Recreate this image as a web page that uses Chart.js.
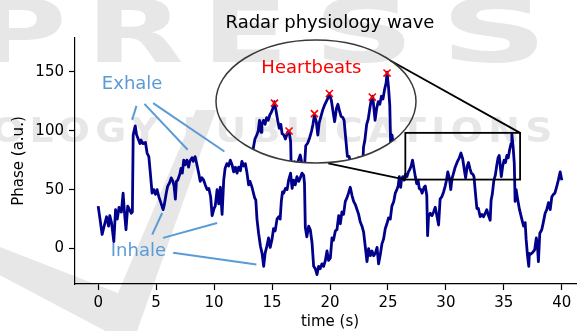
<!DOCTYPE html>
<html>
<head>
<meta charset="utf-8">
<script src="https://cdn.jsdelivr.net/npm/chart.js@4.4.1/dist/chart.umd.min.js"></script>
<style>
  html, body { margin: 0; padding: 0; overflow: hidden; background: #fff; }
  #wrap { position: relative; width: 600px; height: 331px; }
  #chart { position: absolute; left: 0; top: 0; }
  #inset { position: absolute; left: 210px; top: 34px; }
</style>
</head>
<body>
<div id="wrap">
  <canvas id="chart" width="600" height="331"></canvas>
  <canvas id="inset" width="212" height="135"></canvas>
</div>
<script>
// radar phase signal
const timeS = [0.00,0.20,0.34,0.54,0.72,0.90,1.00,1.15,1.35,1.50,1.65,1.80,2.00,2.15,2.25,2.40,2.55,2.70,2.85,2.95,
  3.02,3.10,3.20,3.30,3.45,3.60,3.70,3.85,4.08,4.22,4.37,4.50,4.65,4.80,4.94,5.08,5.23,5.37,5.60,5.70,
  5.89,6.00,6.17,6.30,6.45,6.55,6.66,6.75,6.86,7.04,7.15,7.26,7.38,7.50,7.65,7.80,7.90,8.10,8.20,8.36,
  8.50,8.67,8.80,8.95,9.10,9.24,9.40,9.55,9.70,9.83,10.00,10.10,10.26,10.40,10.54,10.69,10.83,10.95,11.10,11.25,
  11.40,11.55,11.69,11.84,11.98,12.12,12.27,12.40,12.56,12.70,12.84,12.98,13.10,13.27,13.50,13.60,13.70,13.84,14.00,14.14,
  14.28,14.40,14.55,14.70,14.84,15.00,15.13,15.27,15.43,15.57,15.70,15.80,15.90,16.00,16.15,16.30,16.43,16.60,16.73,16.86,
  17.00,17.15,17.30,17.44,17.58,17.73,17.80,17.87,18.00,18.16,18.30,18.45,18.59,18.73,18.88,19.02,19.16,19.30,19.45,19.60,
  19.74,19.88,20.03,20.17,20.30,20.46,20.60,20.75,20.89,21.03,21.17,21.32,21.46,21.60,21.75,21.90,22.04,22.20,22.30,22.47,
  22.60,22.76,22.90,23.04,23.19,23.33,23.48,23.62,23.77,23.91,24.06,24.19,24.34,24.48,24.62,24.77,24.91,25.05,25.20,25.34,
  25.50,25.63,25.77,25.88,25.98,26.10,26.16,26.28,26.40,26.52,26.64,26.76,26.88,27.00,27.12,27.24,27.36,27.48,27.60,27.70,
  27.83,27.95,28.12,28.22,28.35,28.42,28.50,28.65,28.80,28.94,29.08,29.20,29.37,29.50,29.65,29.80,29.94,30.05,30.16,30.30,
  30.42,30.52,30.66,30.80,30.96,31.16,31.30,31.45,31.60,31.70,31.84,31.95,32.07,32.19,32.33,32.42,32.52,32.67,32.80,32.96,
  33.10,33.24,33.40,33.53,33.67,33.82,33.90,34.00,34.14,34.26,34.38,34.50,34.60,34.69,34.78,34.90,35.02,35.14,35.26,35.38,
  35.50,35.62,35.69,35.80,35.90,35.97,36.06,36.17,36.35,36.55,36.70,36.84,36.92,37.04,37.15,37.20,37.27,37.40,37.50,37.66,
  37.80,37.90,37.98,38.10,38.27,38.40,38.56,38.70,38.85,39.00,39.14,39.28,39.40,39.57,39.70,39.86,40.00];
const phase = [36,22,12,20,27,19,28,22,6,33,25,35,31,47,33,16,36,33,30,31,
  96,100,104,97,93,89,92,89,90,81,78,64,47,50,46,50,44,40,33,37,
  48,53,56,60,57,53,42,57,58,63,68,64,75,71,75,69,74,77,74,78,
  72,64,57,60,58,54,50,51,44,28,34,36,50,38,52,29,58,68,72,70,
  75,71,65,69,64,69,66,74,70,72,64,54,57,52,43,41,25,13,2,-4,
  -15,-4,2,9,1,8,17,15,25,27,25,40,48,47,51,50,58,64,51,58,
  54,61,57,60,64,62,55,18,10,19,16,5,-15,-17,-22,-15,-17,-13,-15,-10,
  -2,-10,-8,9,7,15,16,28,21,31,29,40,43,47,52,45,40,37,34,29,
  23,19,14,2,-11,0,-6,-2,-6,-4,1,-13,-5,4,8,17,21,26,25,36,
  40,47,50,53,61,52,58,61,58,63,61,65,67,70,75,68,61,55,58,51,
  50,47,52,53,45,11,27,30,28,31,35,29,20,42,44,48,53,58,65,60,
  50,59,64,69,73,77,81,76,66,60,70,73,68,64,63,61,50,34,34,27,
  29,27,30,33,28,24,41,46,58,62,70,77,79,70,61,70,75,73,79,77,
  84,89,97,86,72,40,50,43,33,25,19,22,8,-6,-15,-4,-5,-4,-3,-1,
  9,2,-11,13,16,22,30,33,39,33,44,46,47,53,58,65,58];

// heartbeat marks shown in the zoomed view
const beatTime = [27.12, 28.23, 30.16, 31.30, 34.57, 35.69];
const beatPhase = [73.9, 53.0, 66.0, 81.1, 78.4, 96.4];

const xTicks = [0, 5, 10, 15, 20, 25, 30, 35, 40];
const yTicks = [0, 50, 100, 150];

const navy = '#00008b';
const noteBlue = '#5b9bd5';
const font = '"DejaVu Sans", sans-serif';

// annotation geometry, in data units of the main axes
const zoomBox = { t0: 26.5, t1: 36.4, v0: 58.5, v1: 98.1 };
const connectors = [[36.4, 98.1, 25.2, 159.4], [26.5, 58.5, 19.85, 72.3]];
const exhaleText = [2.93, 139.2];
const exhaleLines = [[3.30, 121.0, 2.93, 109.1], [3.99, 122.7, 7.72, 83.8], [4.74, 123.3, 10.89, 82.3]];
const inhaleText = [3.47, -2.1];
const inhaleLines = [[5.52, 30.2, 4.66, 11.8], [5.60, 9.1, 10.26, 21.7], [6.47, -3.6, 13.65, -13.5]];

const series = timeS.map((t, i) => ({ x: t, y: phase[i] }));
const beats = beatTime.map((t, i) => ({ x: t, y: beatPhase[i] }));

// publisher watermark behind the plot
const wmLetters = ['P', 'R', 'E', 'S', 'S'];
const wmCenters = [20, 135, 245, 364, 494];
const wmStretch = [1.45, 1.45, 1.45, 1.6, 1.7];

const watermark = {
  id: 'watermark',
  beforeDraw(chart) {
    const ctx = chart.ctx;
    ctx.save();
    ctx.fillStyle = '#e7e7e7';
    ctx.beginPath();
    [[-10, 243], [118, 293], [196, 110], [216, 110], [132, 345], [-10, 270]].forEach((p, i) => {
      if (i) ctx.lineTo(p[0], p[1]); else ctx.moveTo(p[0], p[1]);
    });
    ctx.closePath();
    ctx.fill();
    ctx.textAlign = 'center';
    ctx.textBaseline = 'alphabetic';
    ctx.font = 'bold 88px ' + font;
    wmLetters.forEach((s, i) => {
      ctx.save();
      ctx.translate(wmCenters[i], 62);
      ctx.scale(wmStretch[i], 1);
      ctx.fillText(s, 0, 0);
      ctx.restore();
    });
    ctx.save();
    ctx.font = 'bold 34px ' + font;
    ctx.letterSpacing = '5px';
    ctx.textAlign = 'left';
    const s = 'OLOGY PUBLICATIONS';
    const w = ctx.measureText(s).width;
    ctx.translate(-8, 142);
    ctx.scale(566 / w, 1);
    ctx.fillText(s, 0, 0);
    ctx.restore();
    ctx.restore();
  }
};

const notes = {
  id: 'notes',
  afterDatasetsDraw(chart) {
    const { ctx, chartArea, scales: { x, y } } = chart;
    const px = t => x.getPixelForValue(t);
    const py = v => y.getPixelForValue(v);
    const seg = s => { ctx.beginPath(); ctx.moveTo(px(s[0]), py(s[1])); ctx.lineTo(px(s[2]), py(s[3])); ctx.stroke(); };
    ctx.save();
    ctx.strokeStyle = '#000';
    ctx.lineWidth = 1.8;
    ctx.strokeRect(px(zoomBox.t0), py(zoomBox.v1), px(zoomBox.t1) - px(zoomBox.t0), py(zoomBox.v0) - py(zoomBox.v1));
    connectors.forEach(seg);
    ctx.strokeStyle = noteBlue;
    ctx.lineWidth = 2;
    exhaleLines.forEach(seg);
    inhaleLines.forEach(seg);
    ctx.fillStyle = noteBlue;
    ctx.font = '18px ' + font;
    ctx.textAlign = 'center';
    ctx.textBaseline = 'middle';
    ctx.fillText('Exhale', px(exhaleText[0]), py(exhaleText[1]));
    ctx.fillText('Inhale', px(inhaleText[0]), py(inhaleText[1]));
    // title
    ctx.fillStyle = '#000';
    ctx.textBaseline = 'alphabetic';
    ctx.fillText('Radar physiology wave', (chartArea.left + chartArea.right) / 2, 27.5);
    ctx.restore();
  }
};

const tickFont = { family: font, size: 15 };

new Chart(document.getElementById('chart'), {
  type: 'line',
  data: {
    datasets: [{
      data: series,
      borderColor: navy,
      borderWidth: 2.8,
      borderJoinStyle: 'round',
      pointRadius: 0,
      tension: 0
    }]
  },
  options: {
    responsive: false,
    animation: false,
    layout: { padding: { left: 0, top: 38, right: 15, bottom: 0 } },
    plugins: { legend: { display: false }, tooltip: { enabled: false } },
    scales: {
      x: {
        type: 'linear', min: -2, max: 42,
        afterFit: s => { s.height = 47; },
        afterBuildTicks: s => { s.ticks = xTicks.map(v => ({ value: v })); },
        grid: { drawOnChartArea: false, drawTicks: true, tickLength: 6, color: '#000', tickWidth: 1.2 },
        border: { display: true, color: '#000', width: 1.2 },
        ticks: { font: tickFont, color: '#000', padding: 4, maxRotation: 0 },
        title: { display: true, text: 'time (s)', font: tickFont, color: '#000', padding: { top: 0, bottom: 0 } }
      },
      y: {
        type: 'linear', min: -30, max: 178.5,
        afterFit: s => { s.width = 75; },
        afterBuildTicks: s => { s.ticks = yTicks.map(v => ({ value: v })); },
        grid: { drawOnChartArea: false, drawTicks: true, tickLength: 6, color: '#000', tickWidth: 1.2 },
        border: { display: true, color: '#000', width: 1.2 },
        ticks: { font: tickFont, color: '#000', padding: 5 },
        title: { display: true, text: 'Phase (a.u.)', font: tickFont, color: '#000', padding: { top: 10, bottom: 0 } }
      }
    }
  },
  plugins: [watermark, notes]
});

// zoomed view inside the ellipse
const ellipseClip = {
  id: 'ellipseClip',
  beforeDatasetsDraw(chart) {
    const { ctx, width, height } = chart;
    ctx.save();
    ctx.beginPath();
    ctx.ellipse(width / 2, height / 2, width / 2 - 6, height / 2 - 6, 0, 0, Math.PI * 2);
    ctx.clip();
  },
  afterDatasetsDraw(chart) {
    const { ctx, width, height, scales: { x, y } } = chart;
    ctx.restore();
    ctx.save();
    ctx.strokeStyle = '#3a3a3a';
    ctx.lineWidth = 1.5;
    ctx.beginPath();
    ctx.ellipse(width / 2, height / 2, width / 2 - 6, height / 2 - 6, 0, 0, Math.PI * 2);
    ctx.stroke();
    ctx.fillStyle = '#ff0000';
    ctx.font = '18px ' + font;
    ctx.textAlign = 'center';
    ctx.textBaseline = 'middle';
    ctx.fillText('Heartbeats', x.getPixelForValue(29.93), y.getPixelForValue(99.8));
    ctx.restore();
  }
};

new Chart(document.getElementById('inset'), {
  type: 'line',
  data: {
    datasets: [{
      data: beats,
      showLine: false,
      pointStyle: 'crossRot',
      pointRadius: 5,
      pointBorderWidth: 1.6,
      borderColor: '#ff0000',
      backgroundColor: '#ff0000'
    }, {
      data: series,
      borderColor: navy,
      borderWidth: 2.8,
      borderJoinStyle: 'round',
      pointRadius: 0,
      tension: 0
    }]
  },
  options: {
    responsive: false,
    animation: false,
    layout: { padding: 0 },
    plugins: { legend: { display: false }, tooltip: { enabled: false } },
    scales: {
      x: { type: 'linear', display: false, min: 22.71, max: 37.85 },
      y: { type: 'linear', display: false, min: 29.5, max: 120.7 }
    }
  },
  plugins: [ellipseClip]
});
</script>
</body>
</html>
